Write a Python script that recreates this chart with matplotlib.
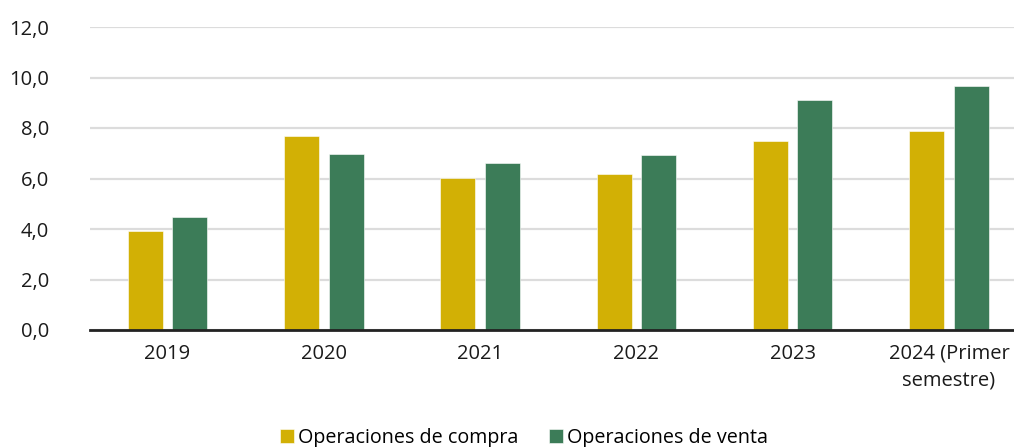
import numpy as np
import matplotlib
matplotlib.use("Agg")
import matplotlib.pyplot as plt

# values
categories = ["2019", "2020", "2021", "2022", "2023", "2024 (Primer\nsemestre)"]
compra = [3.93, 7.67, 6.03, 6.19, 7.50, 7.88]
venta = [4.47, 6.98, 6.63, 6.93, 9.09, 9.65]
yticks = [0, 2, 4, 6, 8, 10, 12]

c_compra = "#D2B005"
c_venta = "#3C7C58"

plt.rcParams["font.family"] = ["Open Sans", "DejaVu Sans"]

fig = plt.figure(figsize=(10.14, 4.47), dpi=100)
ax = fig.add_axes([90 / 1014, 1 - 330 / 447, 1 - 90 / 1014, (330 - 27) / 447])

x = np.arange(len(categories))
w = 0.224
off = 0.142
ax.bar(x - off, compra, w, color=c_compra, edgecolor="white", linewidth=0.4,
       label="Operaciones de compra", zorder=3)
ax.bar(x + off, venta, w, color=c_venta, edgecolor="white", linewidth=0.4,
       label="Operaciones de venta", zorder=3)

ax.set_xlim(-0.496, 5.416)
ax.set_ylim(0, 12)
ax.set_yticks(yticks)
ax.set_yticklabels([f"{v:.1f}".replace(".", ",") for v in yticks])
ax.set_xticks(x)
ax.set_xticklabels(categories, linespacing=1.45)

ax.yaxis.grid(True, color="#DCDCDC", linewidth=1.6, zorder=0)
for s in ("top", "right", "left"):
    ax.spines[s].set_visible(False)
ax.spines["bottom"].set_color("#222222")
ax.spines["bottom"].set_linewidth(2)
ax.spines["bottom"].set_zorder(4)
ax.tick_params(axis="both", length=0, labelsize=14.5, colors="#1a1a1a")
ax.tick_params(axis="y", pad=29.5)
ax.tick_params(axis="x", pad=10)

fig.legend(loc="center", bbox_to_anchor=(524 / 1014, 1 - 438 / 447),
           ncol=2, frameon=False, fontsize=14.2, handlelength=0.7,
           handleheight=0.7, handletextpad=0.2, columnspacing=1.6)

fig.savefig("out.png", dpi=100)
